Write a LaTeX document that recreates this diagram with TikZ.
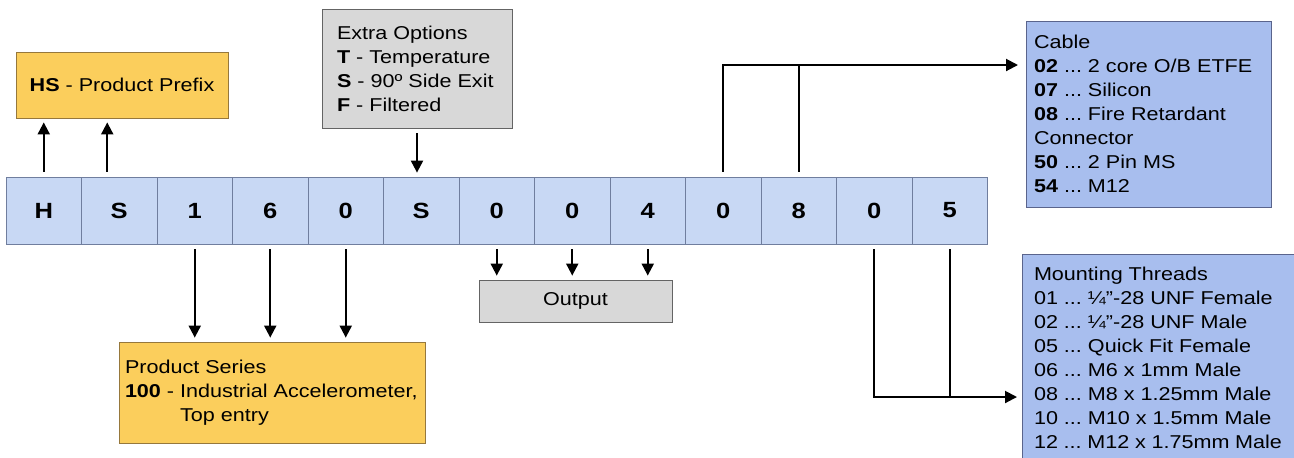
\documentclass[tikz,border=0pt]{standalone}
\usepackage{fontspec}
\setmainfont{Liberation Sans}[FakeStretch=1.16]
\usepackage{tikz}
\usetikzlibrary{arrows.meta,positioning,calc}
\definecolor{cellblue}{RGB}{200,216,244}
\definecolor{cellline}{RGB}{112,126,158}
\definecolor{codeyellow}{RGB}{251,206,92}
\definecolor{yellowline}{RGB}{150,120,60}
\definecolor{codegrey}{RGB}{216,216,216}
\definecolor{greyline}{RGB}{100,100,100}
\definecolor{infoblue}{RGB}{168,190,238}
\definecolor{blueline}{RGB}{90,100,140}
\frenchspacing

\begin{document}
\begin{tikzpicture}[x=0.5pt,y=-0.5pt,
cell/.style={draw=cellline,fill=cellblue,minimum width=37.75pt,minimum height=33.5pt,inner sep=0pt,font=\fontsize{11}{13}\selectfont\bfseries},
yellowbox/.style={draw=yellowline,fill=codeyellow,align=flush left,font=\fontsize{9.3}{12}\selectfont},
greybox/.style={draw=greyline,fill=codegrey,align=flush left,font=\fontsize{9.3}{12}\selectfont},
bluebox/.style={draw=blueline,fill=infoblue,align=flush left,font=\fontsize{9.3}{12}\selectfont},
arr/.style={-{Triangle[length=6pt,width=6pt]},line width=1pt,shorten >=2pt},
lnk/.style={line width=1pt}
]
\useasboundingbox (0,0) rectangle (1294,457);

% code cells
\foreach \d [count=\i] in {H,S,1,6,0,S,0,0,4,0,8,0,5}
  \node[cell] (c\i) at ({6+(\i-0.5)*75.5},210.5) {\d};

\node[yellowbox,minimum width=106pt,minimum height=33pt] (hs) at (122,85) {\textbf{HS} - Product Prefix};
\node[greybox,inner xsep=7.5pt,text width=80pt,minimum height=59.5pt] (ext) at (417,68.5) {Extra Options\\\textbf{T} - Temperature\\\textbf{S} - 90º Side Exit\\\textbf{F} - Filtered};
\node[greybox,minimum width=96.5pt,minimum height=21pt] (out) at (575.5,301) {Output};
\node[yellowbox,inner xsep=3pt,text width=147pt,minimum height=50.5pt] (ser) at (272,392.5) {Product Series\\\textbf{100} - Industrial Accelerometer,\\\phantom{\textbf{100} - }Top entry};
\node[bluebox,inner xsep=4pt,text width=114.5pt,minimum height=93pt] (cab) at (1148.5,114) {Cable\\\textbf{02} ... 2 core O/B ETFE\\\textbf{07} ... Silicon\\\textbf{08} ... Fire Retardant\\Connector\\\textbf{50} ... 2 Pin MS\\\textbf{54} ... M12};
\node[bluebox,inner xsep=6pt,text width=124pt,minimum height=104pt] (mnt) at (1158,358) {Mounting Threads\\01 ... ¼"-28 UNF Female\\02 ... ¼"-28 UNF Male\\05 ... Quick Fit Female\\06 ... M6 x 1mm Male\\08 ... M8 x 1.25mm Male\\10 ... M10 x 1.5mm Male\\12 ... M12 x 1.75mm Male};

% prefix
\coordinate (s2) at ([xshift=-6pt]c2.north);
\draw[arr] ([yshift=2.5pt]c1.north) -- (c1.north |- hs.south);
\draw[arr] ([yshift=2.5pt]s2) -- (s2 |- hs.south);
% options
\draw[arr] ([yshift=-2.5pt]ext.south) -- (ext.south |- c6.north);
% series and output
\foreach \i in {3,4,5}
  \draw[arr] ([yshift=-2.5pt]c\i.south) -- (c\i.south |- ser.north);
\foreach \i in {7,8,9}
  \draw[arr] ([yshift=-2.5pt]c\i.south) -- (c\i.south |- out.north);
% cable and threads
\coordinate (cabin) at (1022,65);
\coordinate (mntin) at (1021,397);
\draw[arr] ([yshift=2.5pt]c10.north) |- (cabin);
\draw[lnk] ([yshift=2.5pt]c11.north) -- (c11.north |- cabin);
\draw[arr] ([yshift=-2.5pt]c12.south) |- (mntin);
\draw[lnk] ([yshift=-2.5pt]c13.south) -- (c13.south |- mntin);
\end{tikzpicture}
\end{document}
